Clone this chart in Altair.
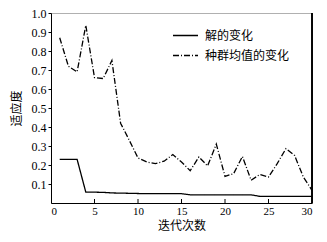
import altair as alt
import pandas as pd

iterations = list(range(1, 31))
solution = [0.23, 0.23, 0.23, 0.057, 0.057, 0.056, 0.053, 0.052, 0.051, 0.050,
            0.049, 0.049, 0.049, 0.049, 0.049, 0.043, 0.043, 0.043, 0.043, 0.043,
            0.043, 0.043, 0.043, 0.035, 0.035, 0.035, 0.035, 0.035, 0.035, 0.035]
pop_mean = [0.87, 0.72, 0.69, 0.935, 0.66, 0.655, 0.75, 0.42, 0.33, 0.237,
            0.216, 0.207, 0.22, 0.255, 0.216, 0.17, 0.242, 0.195, 0.31, 0.14,
            0.155, 0.245, 0.12, 0.15, 0.137, 0.207, 0.286, 0.25, 0.137, 0.067]
series_names = ["解的变化", "种群均值的变化"]
x_ticks = [0, 5, 10, 15, 20, 25, 30]
y_ticks = [0.1, 0.2, 0.3, 0.4, 0.5, 0.6, 0.7, 0.8, 0.9, 1.0]

df = pd.DataFrame({
    "iter": iterations * 2,
    "value": solution + pop_mean,
    "series": [series_names[0]] * 30 + [series_names[1]] * 30,
})

W, H = 261, 190
font_num = "Liberation Serif"
font_cjk = "Noto Sans CJK SC"

lines = alt.Chart(df).mark_line(strokeWidth=1.3, color="black").encode(
    x=alt.X("iter:Q", scale=alt.Scale(domain=[0, 30], nice=False),
            axis=alt.Axis(values=x_ticks, title="迭代次数", grid=False,
                          tickSize=0, labelPadding=2, titlePadding=4,
                          labelFont=font_num, labelFontSize=11,
                          titleFont=font_cjk, titleFontSize=12)),
    y=alt.Y("value:Q", scale=alt.Scale(domain=[0, 1.0], nice=False),
            axis=alt.Axis(values=y_ticks, format=".1f", title="适应度", grid=False,
                          tickSize=3, labelPadding=2, titlePadding=8,
                          labelFont=font_num, labelFontSize=12,
                          titleFont=font_cjk, titleFontSize=12)),
    strokeDash=alt.StrokeDash("series:N",
        scale=alt.Scale(domain=series_names, range=[[1, 0], [6, 2, 1, 2]]),
        legend=alt.Legend(title=None, orient="none", legendX=121, legendY=9,
                          symbolType="stroke", symbolSize=625,
                          symbolStrokeWidth=1.3, symbolStrokeColor="black",
                          labelFont=font_cjk, labelFontSize=12, labelColor="black",
                          labelOffset=6, rowPadding=-12)),
    order="iter:Q",
)

xtick_df = pd.DataFrame({"t": x_ticks[1:-1]})
xticks = alt.Chart(xtick_df).mark_rule(color="black", strokeWidth=1).encode(
    x="t:Q", y=alt.value(H - 4), y2=alt.value(H)
)

right_border = alt.Chart(xtick_df).mark_rule(color="black", strokeWidth=1).encode(
    x=alt.value(W), y=alt.value(0), y2=alt.value(H)
)

chart = alt.layer(lines, xticks, right_border).properties(
    width=W, height=H,
    autosize=alt.AutoSizeParams(type="none"),
    padding={"left": 43, "top": 5, "right": 7, "bottom": 31},
).configure_view(stroke="#b0b0b0", strokeWidth=1).configure_axis(
    domainColor="black", tickColor="black", labelColor="black", titleColor="black",
    titleFontWeight="normal",
)

chart.save("out.html", embed_options={"renderer": "svg", "actions": False})
